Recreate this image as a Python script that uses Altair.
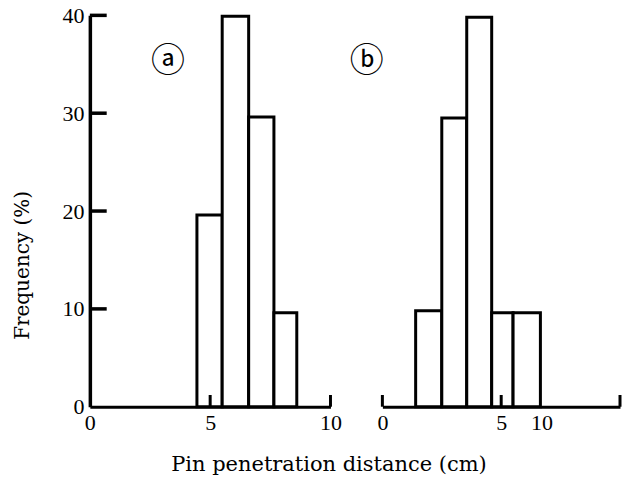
import altair as alt
import pandas as pd

# Panel (a): histogram bins (cm) and frequency (%)
a_lo = [4.45, 5.5, 6.6, 7.65]
a_hi = [5.5, 6.6, 7.65, 8.6]
a_freq = [19.6, 39.9, 29.6, 9.6]

# Panel (b): histogram bins (cm) and frequency (%)
b_lo = [1.4, 2.5, 3.55, 4.6, 5.5]
b_hi = [2.5, 3.55, 4.6, 5.5, 6.65]
b_freq = [9.8, 29.5, 39.8, 9.6, 9.6]

# Axis ticks and labels
y_values = [0, 10, 20, 30, 40]
y_inner_ticks = [10, 20, 30, 40]
a_x_values = [0, 5, 10]
a_x_labels = ["0", "5", "10"]
a_up_ticks = [5, 10]
b_x_values = [0, 5, 6.7]
b_x_labels = ["0", "5", "10"]
b_up_ticks = [0, 5, 10]

panel_tags = ["ⓐ", "ⓑ"]

SERIF = "Liberation Serif"
TITLE_FONT = "DejaVu Serif"
INK = "black"


def label_expr(values, labels):
    parts = " : ".join(
        f"datum.value == {v} ? '{t}'" for v, t in zip(values, labels)
    )
    return parts + " : ''"


def x_axis(values, labels, title=None):
    kw = dict(
        values=values,
        labelExpr=label_expr(values, labels),
        domain=True,
        domainColor=INK,
        domainWidth=3,
        ticks=False,
        grid=False,
        labelFont=SERIF,
        labelFontSize=22,
        labelColor=INK,
        labelPadding=6,
        labelFlush=False,
        labelOverlap=False,
    )
    if title:
        kw.update(
            title=title,
            titleFont=TITLE_FONT,
            titleFontSize=21,
            titleFontWeight="normal",
            titleColor=INK,
            titleX=239,
            titleY=58,
            titleAlign="center",
            titleBaseline="middle",
        )
    else:
        kw.update(title=None)
    return alt.Axis(**kw)


def panel(lo, hi, freq, xvals, xlabels, up_ticks, tag, tag_x, width, with_y):
    bars_df = pd.DataFrame({"lo": lo, "hi": hi, "freq": freq})
    xs = alt.Scale(domain=[0, 10], nice=False, zero=False)
    ys = alt.Scale(domain=[0, 40], nice=False)

    if with_y:
        y_axis = alt.Axis(
            values=y_values,
            domain=True,
            domainColor=INK,
            domainWidth=3.5,
            ticks=False,
            grid=False,
            labelFont=SERIF,
            labelFontSize=22,
            labelColor=INK,
            labelPadding=6,
            labelFlush=False,
            labelOverlap=False,
            title="Frequency (%)",
            titleFont=TITLE_FONT,
            titleFontSize=20,
            titleFontWeight="normal",
            titleColor=INK,
            titleX=-67,
            titleY=250,
            titleAlign="center",
            titleBaseline="middle",
        )
    else:
        y_axis = None

    bars = alt.Chart(bars_df).mark_rect(
        fill="white", stroke=INK, strokeWidth=3
    ).encode(
        x=alt.X("lo:Q", scale=xs,
                axis=x_axis(xvals, xlabels,
                            "Pin penetration distance (cm)" if with_y else None)),
        x2="hi:Q",
        y=alt.Y("freq:Q", scale=ys, axis=y_axis),
        y2=alt.datum(0),
    )

    ups = alt.Chart(pd.DataFrame({"v": up_ticks})).mark_rule(
        color=INK, strokeWidth=3
    ).encode(x="v:Q", y=alt.datum(0), y2=alt.datum(1.2))

    label = alt.Chart(pd.DataFrame({"t": [tag]})).mark_text(
        font="Noto Sans CJK JP", fontSize=34, color=INK, baseline="middle",
    ).encode(x=alt.datum(tag_x), y=alt.datum(35.2), text="t:N")

    layers = [bars, ups, label]
    if with_y:
        inner = alt.Chart(pd.DataFrame({"v": y_inner_ticks})).mark_rule(
            color=INK, strokeWidth=3.5
        ).encode(x=alt.datum(0), x2=alt.datum(0.7), y="v:Q")
        layers.append(inner)

    return alt.layer(*layers).properties(width=width, height=392)


panel_a = panel(a_lo, a_hi, a_freq, a_x_values, a_x_labels, a_up_ticks,
                panel_tags[0], 3.25, 241, True)
panel_b = panel(b_lo, b_hi, b_freq, b_x_values, b_x_labels, b_up_ticks,
                panel_tags[1], -0.66, 238, False)

chart = alt.hconcat(panel_a, panel_b, spacing=52, bounds="flush").properties(
    padding={"left": 13, "top": 4, "right": 0, "bottom": 0},
    background="white",
).configure_view(stroke=None)

chart.save("out.html", embed_options={"renderer": "svg", "actions": False})
